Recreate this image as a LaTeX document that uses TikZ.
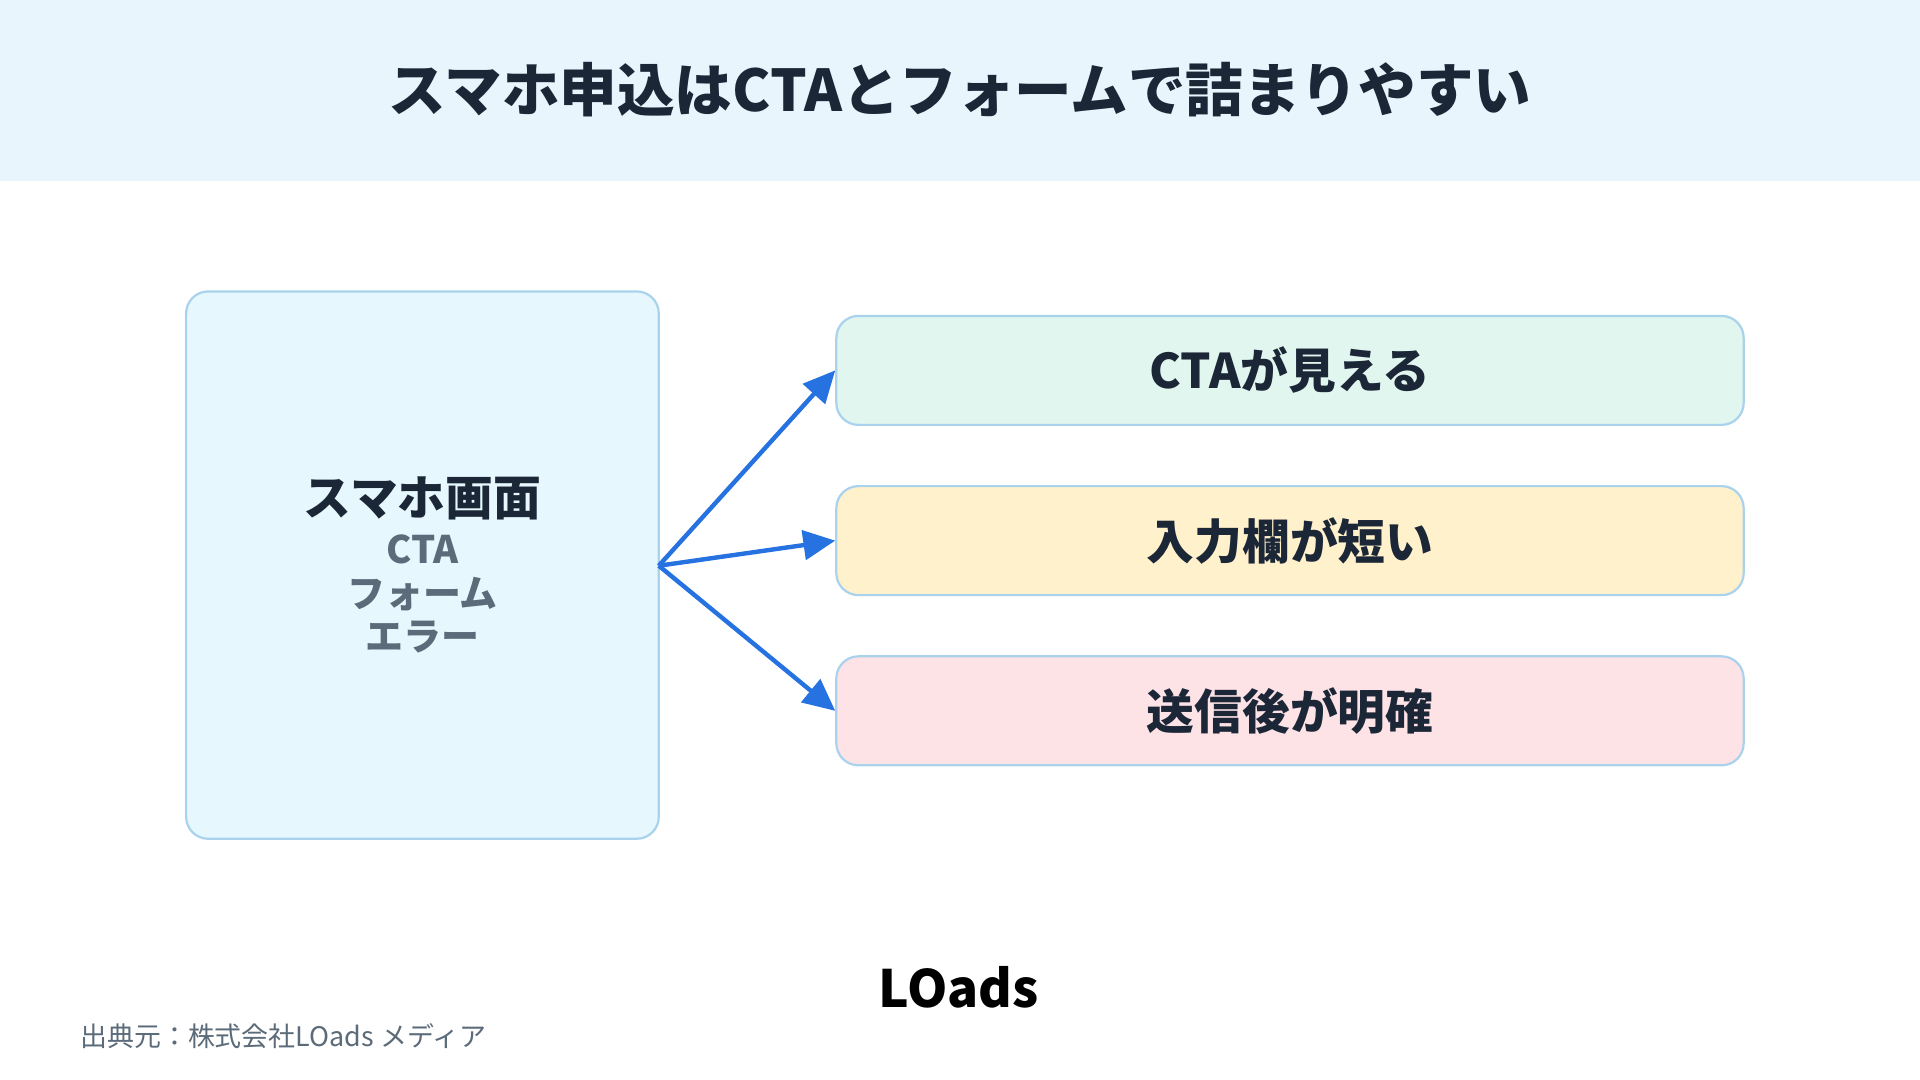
\documentclass[tikz,border=0pt]{standalone}
\usepackage{fontspec}
\setmainfont{Noto Sans CJK JP}
\usetikzlibrary{arrows.meta}
\definecolor{hdr}{HTML}{E8F5FD}
\definecolor{navy}{HTML}{1B2636}
\definecolor{edge}{HTML}{A9D2EC}
\definecolor{lbox}{HTML}{E6F8FD}
\definecolor{gbox}{HTML}{E0F6EE}
\definecolor{ybox}{HTML}{FFF1CC}
\definecolor{pbox}{HTML}{FDE2E6}
\definecolor{subg}{HTML}{5B6B7A}
\definecolor{arr}{HTML}{2572E0}
\begin{document}
\begin{tikzpicture}[x=1pt,y=-1pt,
  box/.style={draw=edge,line width=1.8pt,rounded corners=18pt},
  lbl/.style={font=\fontsize{39}{44}\selectfont\bfseries,text=navy},
  con/.style={draw=arr,line width=3.6pt,-{Triangle[length=26pt,width=24pt]}}]
\useasboundingbox (0,0) rectangle (1568,882);
\fill[white] (0,0) rectangle (1568,882);
\fill[hdr] (0,0) rectangle (1568,148);
\node[font=\fontsize{47}{52}\selectfont\bfseries,text=navy] (title) at (784,73) {スマホ申込はCTAとフォームで詰まりやすい};
\draw[box,fill=lbox] (152,238) rectangle (538,685);
\coordinate (L) at (538,462);
\node[font=\fontsize{39}{44}\selectfont\bfseries,text=navy] (lt) at (345,407) {スマホ画面};
\node[font=\fontsize{31}{34}\selectfont\bfseries,text=subg] (l1) at (345,449) {CTA};
\node[font=\fontsize{31}{34}\selectfont\bfseries,text=subg] (l2) at (345,485) {フォーム};
\node[font=\fontsize{31}{34}\selectfont\bfseries,text=subg] (l3) at (345,520) {エラー};
\node[box,fill=gbox,minimum width=741pt,minimum height=89pt,lbl] (b1) at (1053.5,302.5) {CTAが見える};
\node[box,fill=ybox,minimum width=741pt,minimum height=89pt,lbl] (b2) at (1053.5,441.5) {入力欄が短い};
\node[box,fill=pbox,minimum width=741pt,minimum height=89pt,lbl] (b3) at (1053.5,580.5) {送信後が明確};
\draw[con] (L) -- (b1.west);
\draw[con] (L) -- (b2.west);
\draw[con] (L) -- (b3.west);
\node[font=\fontsize{42}{46}\selectfont\bfseries,text=black] (logo) at (783,806) {LOads};
\node[anchor=west,font=\fontsize{22}{26}\selectfont,text=subg] (src) at (62,846) {出典元：株式会社LOads メディア};
\end{tikzpicture}
\end{document}
